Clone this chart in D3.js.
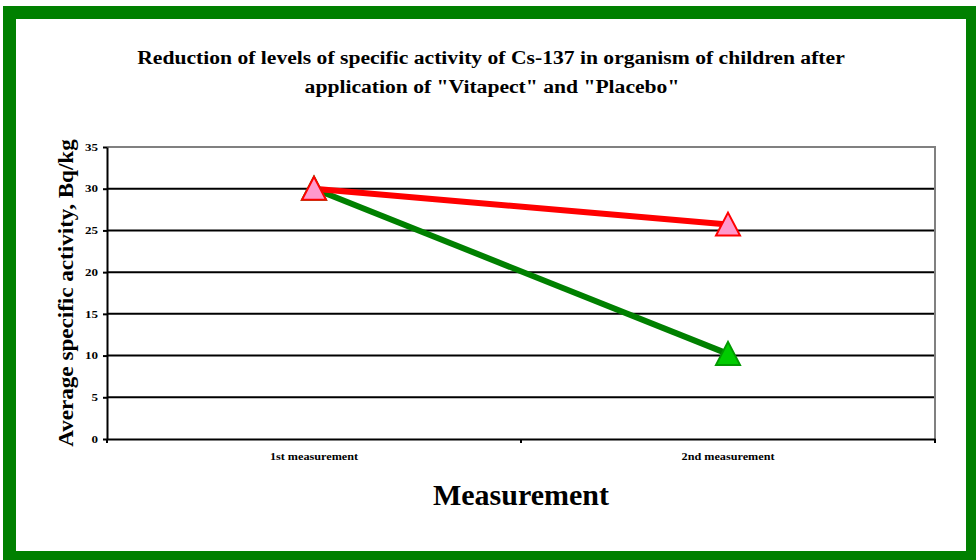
<!DOCTYPE html>
<html>
<head>
<meta charset="utf-8">
<style>
  body { margin: 0; background: #fff; }
  text { font-family: "Liberation Serif", "Times New Roman", serif; font-weight: bold; }
</style>
</head>
<body>
<script src="https://d3js.org/d3.v7.min.js"></script>
<script>
// data
var categories = ["1st measurement", "2nd measurement"];
var placebo = [30, 25.7];
var vitapect = [30, 10.2];
var yTicks = [0, 5, 10, 15, 20, 25, 30, 35];

var W = 976, H = 560;
var plot = { left: 107, right: 935, top: 147, bottom: 439 };

// widen text horizontally, the reference glyphs look stretched
function stretch(sel, factor) {
    sel.each(function () {
        var len = this.getComputedTextLength();
        d3.select(this)
            .attr("textLength", len * factor)
            .attr("lengthAdjust", "spacingAndGlyphs");
    });
}

var svg = d3.select("body").append("svg")
    .attr("width", W).attr("height", H);

// green frame
svg.append("rect")
    .attr("x", 9.5).attr("y", 12.5)
    .attr("width", 963).attr("height", 545)
    .attr("fill", "#fff")
    .attr("stroke", "#008000")
    .attr("stroke-width", 13);

var x = d3.scaleBand().domain(categories).range([plot.left, plot.right]).padding(0);
var y = d3.scaleLinear().domain([0, 35]).range([plot.bottom, plot.top]);

// gridlines
svg.append("g").selectAll("line")
    .data(yTicks.filter(function (d) { return d > 0 && d < 35; }))
    .enter().append("line")
    .attr("x1", plot.left).attr("x2", plot.right)
    .attr("y1", function (d) { return y(d); })
    .attr("y2", function (d) { return y(d); })
    .attr("stroke", "#000").attr("stroke-width", 2);

// top and right border of plot (gray)
svg.append("path")
    .attr("d", "M" + plot.left + "," + y(35) + "H" + plot.right + "V" + plot.bottom)
    .attr("fill", "none").attr("stroke", "#808080").attr("stroke-width", 2);

// y axis
var yAxis = svg.append("g")
    .attr("transform", "translate(" + plot.left + ",0)")
    .call(d3.axisLeft(y).tickValues(yTicks).tickSize(4).tickSizeOuter(0).tickPadding(5));
yAxis.select(".domain").attr("stroke", "#000").attr("stroke-width", 2);
yAxis.selectAll(".tick line").attr("stroke", "#000").attr("stroke-width", 2);
yAxis.selectAll(".tick text")
    .style("font-family", "Liberation Serif, serif")
    .style("font-weight", "bold").style("font-size", "10px").attr("fill", "#000")
    .call(stretch, 1.3);

// x axis
var xAxis = svg.append("g")
    .attr("transform", "translate(0," + plot.bottom + ")")
    .call(d3.axisBottom(x).tickSize(0).tickPadding(14));
xAxis.select(".domain").attr("stroke", "#000").attr("stroke-width", 2);
xAxis.selectAll(".tick text")
    .style("font-family", "Liberation Serif, serif")
    .style("font-weight", "bold").style("font-size", "10px").attr("fill", "#000")
    .call(stretch, 1.22);
// x tick marks at band boundaries
var bounds = [plot.left].concat(categories.map(function (c) { return x(c) + x.bandwidth(); }));
svg.append("g").selectAll("line")
    .data(bounds).enter().append("line")
    .attr("x1", function (d) { return d; }).attr("x2", function (d) { return d; })
    .attr("y1", plot.bottom).attr("y2", plot.bottom + 4)
    .attr("stroke", "#000").attr("stroke-width", 2);

var cx = function (d, i) { return x(categories[i]) + x.bandwidth() / 2; };
var line = d3.line().x(cx).y(function (d) { return y(d); });

svg.append("path").datum(vitapect)
    .attr("d", line).attr("fill", "none")
    .attr("stroke", "#008000").attr("stroke-width", 6);
svg.append("path").datum(placebo)
    .attr("d", line).attr("fill", "none")
    .attr("stroke", "#FF0000").attr("stroke-width", 6);

var tri = "M0,-12L12,11L-12,11Z";
svg.append("g").selectAll("path")
    .data(vitapect).enter().append("path")
    .attr("d", tri)
    .attr("transform", function (d, i) { return "translate(" + cx(d, i) + "," + y(d) + ")"; })
    .attr("fill", "#00CC00").attr("stroke", "#009900").attr("stroke-width", 2);
svg.append("g").selectAll("path")
    .data(placebo).enter().append("path")
    .attr("d", tri)
    .attr("transform", function (d, i) { return "translate(" + cx(d, i) + "," + y(d) + ")"; })
    .attr("fill", "#FF99CC").attr("stroke", "#FF0000").attr("stroke-width", 2);

// title
svg.append("text")
    .attr("x", 491).attr("y", 64)
    .attr("text-anchor", "middle")
    .style("font-size", "18px")
    .text("Reduction of levels of specific activity of Cs-137 in organism of children after")
    .call(stretch, 1.2);
svg.append("text")
    .attr("x", 492).attr("y", 93)
    .attr("text-anchor", "middle")
    .style("font-size", "18px")
    .text("application of \"Vitapect\" and \"Placebo\"")
    .call(stretch, 1.2);

// axis titles
svg.append("text")
    .attr("transform", "translate(73," + ((plot.top + plot.bottom) / 2) + ") rotate(-90)")
    .attr("text-anchor", "middle")
    .style("font-size", "21px")
    .text("Average specific activity, Bq/kg")
    .call(stretch, 1.1);
svg.append("text")
    .attr("x", 521).attr("y", 505)
    .attr("text-anchor", "middle")
    .style("font-size", "30px")
    .text("Measurement");
</script>
</body>
</html>
